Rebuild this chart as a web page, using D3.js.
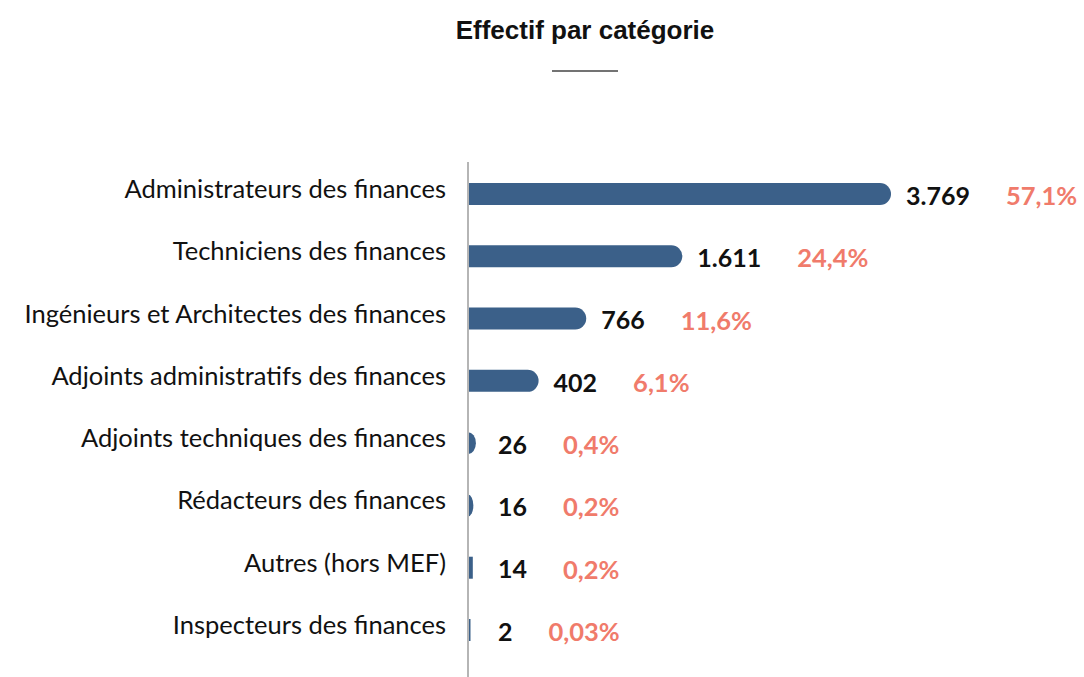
<!DOCTYPE html>
<html>
<head>
<meta charset="utf-8">
<script src="https://cdn.jsdelivr.net/npm/d3@7"></script>
<style>
  body { margin: 0; background: #fff; }
  svg { display: block; }
</style>
</head>
<body>
<div id="chart"></div>
<script>
"use strict";

var categories = [
	"Administrateurs des finances",
	"Techniciens des finances",
	"Ingénieurs et Architectes des finances",
	"Adjoints administratifs des finances",
	"Adjoints techniques des finances",
	"Rédacteurs des finances",
	"Autres (hors MEF)",
	"Inspecteurs des finances"
];
var effectifs = [3769, 1611, 766, 402, 26, 16, 14, 2];
var valueLabels = ["3.769", "1.611", "766", "402", "26", "16", "14", "2"];
var pctLabels = ["57,1%", "24,4%", "11,6%", "6,1%", "0,4%", "0,2%", "0,2%", "0,03%"];

window.addEventListener('load', function () {
	var width = 1084, height = 677;
	var axisX = 468;
	var barH = 22;

	var svg = d3.select("#chart").append("svg")
		.attr("width", width)
		.attr("height", height);

	// titre
	svg.append("text")
		.attr("x", 585)
		.attr("y", 39)
		.attr("text-anchor", "middle")
		.attr("font-family", "Liberation Sans, Arial, sans-serif")
		.attr("font-weight", "bold")
		.attr("font-size", "26px")
		.attr("fill", "#111")
		.text("Effectif par catégorie");
	svg.append("line")
		.attr("x1", 552).attr("x2", 618)
		.attr("y1", 71).attr("y2", 71)
		.attr("stroke", "#444")
		.attr("stroke-width", 1.5);

	var y = d3.scalePoint()
		.domain(categories)
		.range([194, 630]);

	// barres pas tout a fait proportionnelles dans l'original
	var x = d3.scalePow()
		.exponent(0.8)
		.domain([0, d3.max(effectifs)])
		.range([0, 423]);

	function barPath(w) {
		w = Math.max(w, 2.5);
		var ry = barH / 2;
		var rx = w < 5 ? 0 : Math.min(ry, w);
		if (rx === 0) return "M0," + (-ry) + "H" + w + "V" + ry + "H0Z";
		return "M0," + (-ry) + "H" + (w - rx) +
			"A" + rx + "," + ry + " 0 0 1 " + (w - rx) + "," + ry +
			"H0Z";
	}

	var rows = svg.selectAll(".row")
		.data(categories)
		.enter()
		.append("g")
		.attr("class", "row")
		.attr("transform", function (d) { return "translate(" + axisX + "," + y(d) + ")"; });

	rows.append("path")
		.attr("d", function (d, i) { return barPath(x(effectifs[i])); })
		.attr("fill", "#3b6089");

	rows.append("text")
		.attr("x", -22)
		.attr("y", -5)
		.attr("dy", "0.35em")
		.attr("text-anchor", "end")
		.attr("font-family", "Lato, sans-serif")
		.attr("font-size", "25.5px")
		.attr("fill", "#111")
		.text(function (d) { return d; });

	var vals = rows.append("text")
		.attr("class", "val")
		.attr("x", function (d, i) { return Math.max(x(effectifs[i]) + 15, 30); })
		.attr("y", 2)
		.attr("dy", "0.35em")
		.attr("font-family", "Lato, sans-serif")
		.attr("font-weight", "bold")
		.attr("font-size", "25px")
		.attr("fill", "#111")
		.text(function (d, i) { return valueLabels[i]; });

	vals.each(function (d, i) {
		var node = this;
		var end = +node.getAttribute("x") + node.getComputedTextLength();
		d3.select(node.parentNode).append("text")
			.attr("x", end + 36)
			.attr("y", 2)
			.attr("dy", "0.35em")
			.attr("font-family", "Lato, sans-serif")
			.attr("font-weight", "bold")
			.attr("font-size", "25.5px")
			.attr("fill", "#f07b6b")
			.text(pctLabels[i]);
	});

	// axe vertical
	svg.append("line")
		.attr("x1", axisX).attr("x2", axisX)
		.attr("y1", 162).attr("y2", height)
		.attr("stroke", "#b5b5b5")
		.attr("stroke-width", 2);
});
</script>
</body>
</html>
